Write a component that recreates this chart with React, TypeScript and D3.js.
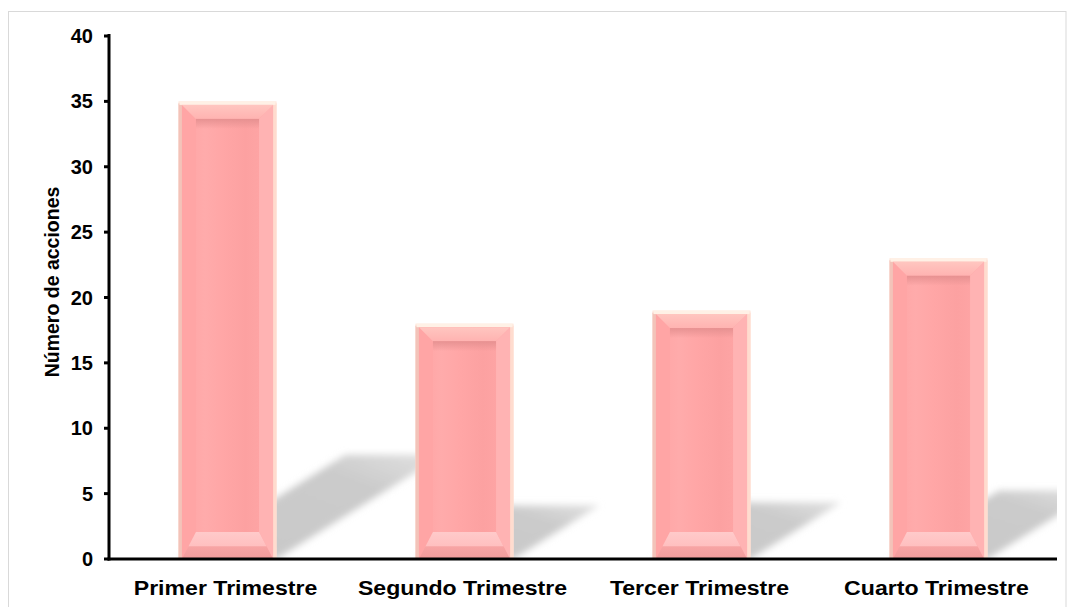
import React from "react";
import * as d3 from "d3";

const categories = ["Primer Trimestre", "Segundo Trimestre", "Tercer Trimestre", "Cuarto Trimestre"];
const values = [35, 18, 19, 23];
const yTicks = [0, 5, 10, 15, 20, 25, 30, 35, 40];
const yLabel = "Número de acciones";

const W = 1067;
const H = 607;
const plot = { left: 109, right: 1057, top: 36, bottom: 559 };

export default function App() {
  const y = d3.scaleLinear().domain([0, 40]).range([plot.bottom, plot.top]);
  const x = d3
    .scaleBand<string>()
    .domain(categories)
    .range([plot.left, plot.right])
    .paddingInner(0.586)
    .paddingOuter(0.293);
  const bw = x.bandwidth();
  const font = "'Liberation Sans', Arial, sans-serif";

  return (
    <svg
      width={W}
      height={H}
      style={{ position: "fixed", left: 0, top: 0, background: "#fff" }}
    >
      <defs>
        <filter id="blur" x="-30%" y="-30%" width="160%" height="160%">
          <feGaussianBlur stdDeviation="3.5" />
        </filter>
        <clipPath id="plotClip">
          <rect x={plot.left} y={0} width={plot.right - plot.left} height={plot.bottom - 1} />
        </clipPath>
        <linearGradient id="shadowGrad" x1="0" y1="1" x2="1" y2="0">
          <stop offset="0%" stopColor="#c8c8c8" />
          <stop offset="70%" stopColor="#cbcbcb" />
          <stop offset="100%" stopColor="#e2e2e2" />
        </linearGradient>
        <linearGradient id="faceGrad" x1="0" y1="0" x2="1" y2="0">
          <stop offset="0%" stopColor="#ffa4a4" />
          <stop offset="25%" stopColor="#ffabab" />
          <stop offset="45%" stopColor="#ffa6a6" />
          <stop offset="70%" stopColor="#fca1a1" />
          <stop offset="100%" stopColor="#ffa7a7" />
        </linearGradient>
        <linearGradient id="topBevel" x1="0" y1="0" x2="0" y2="1">
          <stop offset="0%" stopColor="#ffc6c0" />
          <stop offset="100%" stopColor="#ffb3b1" />
        </linearGradient>
        <linearGradient id="botBevel" x1="0" y1="0" x2="0" y2="1">
          <stop offset="0%" stopColor="#ffcaca" />
          <stop offset="50%" stopColor="#ffc0c0" />
          <stop offset="55%" stopColor="#f7a4a4" />
          <stop offset="100%" stopColor="#f29b9b" />
        </linearGradient>
        <linearGradient id="innerShade" x1="0" y1="0" x2="0" y2="1">
          <stop offset="0%" stopColor="#e48f8f" stopOpacity="0.9" />
          <stop offset="100%" stopColor="#e48f8f" stopOpacity="0" />
        </linearGradient>
      </defs>

      {/* frame */}
      <rect x={8.5} y={11.5} width={1057.5} height={620} fill="none" stroke="#d9d9d9" strokeWidth={1} />

      {/* shadows */}
      <g clipPath="url(#plotClip)">
        {values.map((v, i) => {
          const x0 = x(categories[i])!;
          const x1 = x0 + bw;
          const y0 = y(v);
          const y1 = plot.bottom;
          const h = 0.228 * (y1 - y0);
          const dx = 1.6 * h;
          const pts = [
            [x0, y1],
            [x1, y1],
            [x1 + dx, y1 - h],
            [x0 + dx, y1 - h],
          ]
            .map((p) => p.join(","))
            .join(" ");
          return <polygon key={i} points={pts} fill="url(#shadowGrad)" filter="url(#blur)" />;
        })}
      </g>

      {/* bars */}
      {values.map((v, i) => {
        const ox0 = x(categories[i])!;
        const ox1 = ox0 + bw;
        const oy0 = y(v);
        const oy1 = plot.bottom;
        const e = 3.5;
        const x0 = ox0 + e;
        const x1 = ox1 - e;
        const y0 = oy0 + e;
        const y1 = oy1;
        const s = 14;
        const t = 14;
        const b = 27;
        const ix0 = x0 + s;
        const ix1 = x1 - s;
        const iy0 = y0 + t;
        const iy1 = y1 - b;
        const poly = (p: number[][]) => p.map((q) => q.join(",")).join(" ");
        return (
          <g key={i}>
            <rect x={ox0} y={oy0} width={bw} height={oy1 - oy0} fill="#ffe6da" />
            <rect x={ox0} y={oy0 + 2} width={e} height={oy1 - oy0 - 2} fill="#f3c3b9" />
            <rect x={ox1 - e} y={oy0 + 2} width={e} height={oy1 - oy0 - 2} fill="#ffdccf" />
            <rect x={ox0 + 1} y={oy0} width={bw - 2} height={e} fill="#fff1e6" />
            <rect x={x0} y={y0} width={x1 - x0} height={y1 - y0} fill="url(#faceGrad)" />
            <polygon points={poly([[x0, y0], [ix0, iy0], [ix0, iy1], [x0, y1]])} fill="#ffa5a5" />
            <polygon points={poly([[x1, y0], [x1, y1], [ix1, iy1], [ix1, iy0]])} fill="#ffb3b3" />
            <polygon points={poly([[x0, y0], [x1, y0], [ix1, iy0], [ix0, iy0]])} fill="url(#topBevel)" />
            <polygon points={poly([[ix0, iy1], [ix1, iy1], [x1, y1], [x0, y1]])} fill="url(#botBevel)" />
            <rect x={ix0} y={iy0} width={ix1 - ix0} height={10} fill="url(#innerShade)" />
          </g>
        );
      })}

      {/* y axis */}
      <line x1={109} x2={109} y1={plot.top - 2} y2={plot.bottom + 1.5} stroke="#000" strokeWidth={3} />
      {yTicks.map((t) => (
        <g key={t}>
          <line x1={104} x2={109} y1={y(t)} y2={y(t)} stroke="#000" strokeWidth={3} />
          <text
            x={93}
            y={y(t)}
            textAnchor="end"
            dominantBaseline="central"
            fontFamily={font}
            fontWeight="bold"
            fontSize={20}
            fill="#000"
          >
            {t}
          </text>
        </g>
      ))}

      {/* x axis */}
      <line x1={107.5} x2={plot.right} y1={plot.bottom} y2={plot.bottom} stroke="#000" strokeWidth={3} />
      {categories.map((c) => (
        <text
          key={c}
          transform={`translate(${x(c)! + bw / 2 - 2},595) scale(1.1,1)`}
          textAnchor="middle"
          fontFamily={font}
          fontWeight="bold"
          fontSize={21}
          fill="#000"
        >
          {c}
        </text>
      ))}

      {/* y label */}
      <text
        transform={`translate(59,282) rotate(-90)`}
        textAnchor="middle"
        fontFamily={font}
        fontWeight="bold"
        fontSize={19.5}
        fill="#000"
      >
        {yLabel}
      </text>
    </svg>
  );
}
